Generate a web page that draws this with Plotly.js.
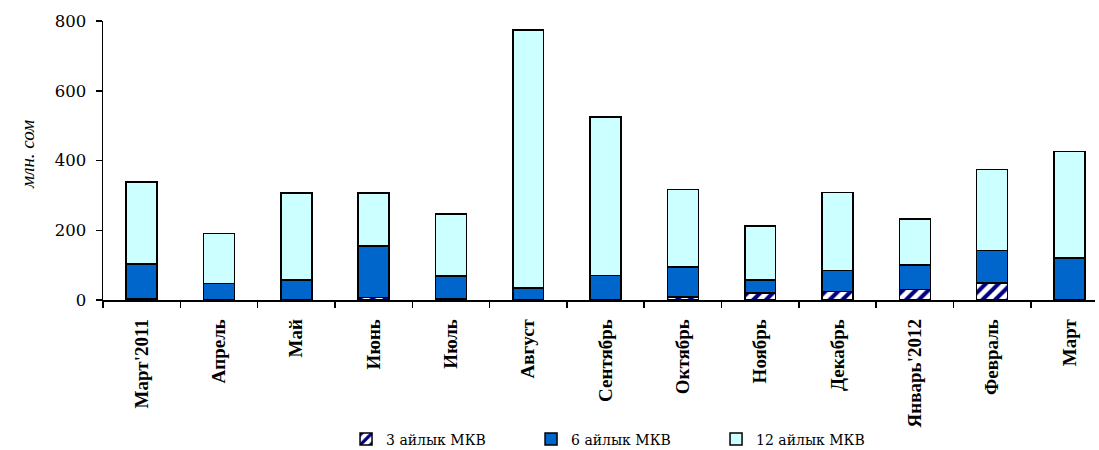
<!DOCTYPE html>
<html>
<head>
<meta charset="utf-8">
<script src="https://cdn.plot.ly/plotly-3.0.1.min.js"></script>
<style>html,body{margin:0;padding:0;background:#fff;}#chart{width:1099px;height:450px;}</style>
</head>
<body>
<div id="chart"></div>
<script>
const categories = ["Март'2011","Апрель","Май","Июнь","Июль","Август","Сентябрь","Октябрь","Ноябрь","Декабрь","Январь'2012","Февраль","Март"];
const mkv3 = [4, 0, 0, 7, 4, 0, 0, 8, 20, 25, 30, 49, 0];
const mkv6 = [99, 48, 57, 148, 65, 34, 70, 87, 38, 60, 70, 93, 121];
const mkv12 = [235, 143, 250, 152, 177, 740, 455, 222, 154, 223, 132, 232, 305];
const seriesNames = ["3 айлык МКВ", "6 айлык МКВ", "12 айлык МКВ"];
const yTicks = [0, 200, 400, 600, 800];

const serif = "Liberation Serif";
const wide = "DejaVu Serif";
const outline = {color: '#000000', width: 1.5};

const traces = [
  {type: 'bar', name: seriesNames[0], x: categories, y: mkv3, width: 0.4,
   marker: {color: '#ffffff', line: outline,
            pattern: {shape: '/', fgcolor: '#000080', bgcolor: '#ffffff', size: 9, solidity: 0.45, fillmode: 'replace'}}},
  {type: 'bar', name: seriesNames[1], x: categories, y: mkv6, width: 0.4,
   marker: {color: '#0066CC', line: outline}},
  {type: 'bar', name: seriesNames[2], x: categories, y: mkv12, width: 0.4,
   marker: {color: '#CCFFFF', line: outline}}
];

const layout = {
  width: 1099, height: 450,
  margin: {l: 103, r: 4, t: 21, b: 150, pad: 0, autoexpand: false},
  paper_bgcolor: '#ffffff', plot_bgcolor: '#ffffff',
  barmode: 'stack',
  showlegend: true,
  font: {family: serif, color: '#000000'},
  xaxis: {
    type: 'category', range: [-0.5, 12.33], automargin: false,
    tickson: 'boundaries', ticks: 'outside', ticklen: 6, tickcolor: '#000', tickwidth: 1.5,
    showline: true, linecolor: '#000', linewidth: 1.5,
    showgrid: false, zeroline: false,
    tickangle: -90, ticklabelstandoff: 10,
    tickfont: {family: serif, size: 19, color: '#000', weight: 'bold'}
  },
  yaxis: {
    range: [0, 800], tickvals: yTicks, automargin: false,
    ticks: 'outside', ticklen: 6, tickcolor: '#000', tickwidth: 1.5,
    showline: true, linecolor: '#000', linewidth: 1.5,
    showgrid: false, zeroline: false,
    ticklabelstandoff: 6,
    tickfont: {family: wide, size: 16.5, color: '#000'}
  },
  legend: {
    orientation: 'h', x: 0.245, xanchor: 'left', y: -0.5, yanchor: 'middle',
    traceorder: 'normal',
    entrywidth: 140, entrywidthmode: 'pixels',
    font: {family: wide, size: 14, color: '#000'},
    itemwidth: 30
  },
  annotations: [{
    text: '<i>млн. сом</i>', xref: 'paper', yref: 'paper',
    x: -76/992, y: (300-155)/279, xanchor: 'center', yanchor: 'middle',
    textangle: -90, showarrow: false,
    font: {family: serif, size: 19, color: '#000'}
  }]
};

Plotly.newPlot('chart', traces, layout, {displayModeBar: false, staticPlot: true});
</script>
</body>
</html>
